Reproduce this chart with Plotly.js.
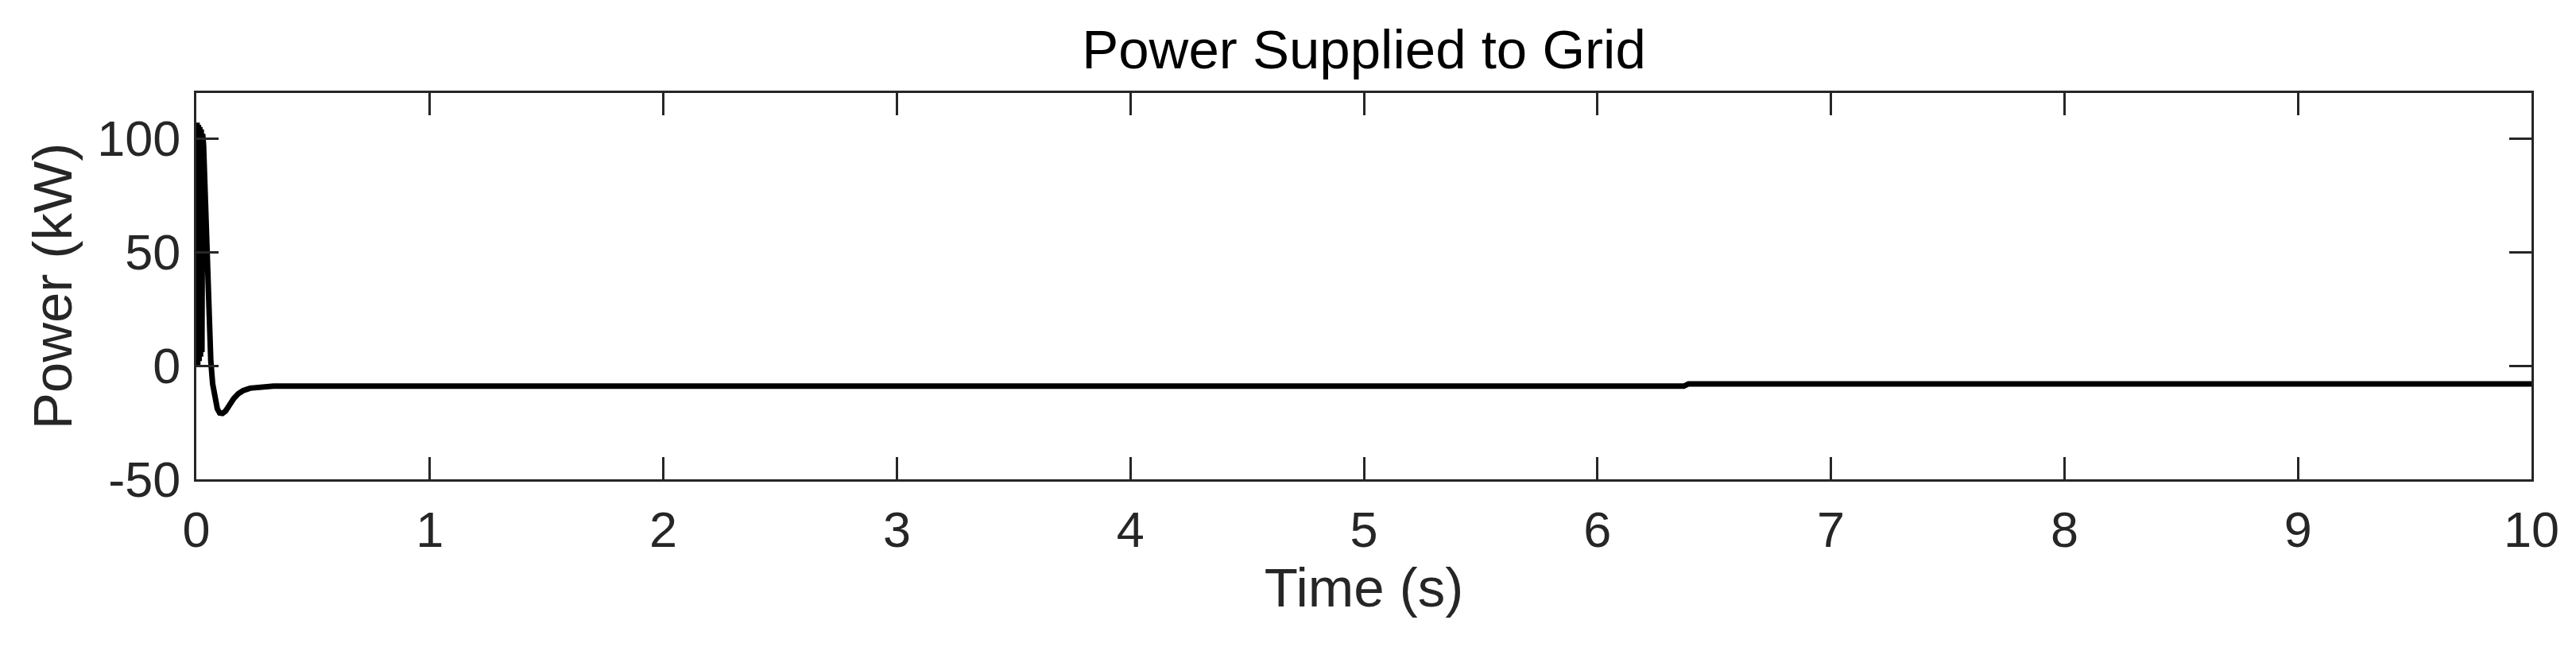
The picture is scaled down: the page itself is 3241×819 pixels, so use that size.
<!DOCTYPE html>
<html>
<head>
<meta charset="utf-8">
<script src="https://cdn.plot.ly/plotly-3.0.1.min.js"></script>
<style>
  html, body { margin: 0; padding: 0; background: #fff; }
  #plotArea { width: 3241px; height: 819px; }
</style>
</head>
<body>
<div id="plotArea"></div>
<script>
// time (s) and power (kW)
// the first ~0.03 s is a fast ripple that shows up as a solid black band
var time = [0, 0.003, 0.006, 0.009, 0.012, 0.015, 0.018, 0.021, 0.024, 0.027,
    0.031, 0.038, 0.045, 0.053, 0.062,
    0.07, 0.08, 0.09, 0.1, 0.112, 0.125, 0.14, 0.16, 0.18, 0.2, 0.23, 0.27, 0.33,
    1, 2, 3, 4, 5, 6, 6.37, 6.39, 7, 8, 9, 10];
var power = [0, 107, 0, 106, 2, 105, 4, 104, 6, 102,
    97, 75, 50, 25, 2,
    -8, -15, -19, -20.8, -21, -20, -17.5, -14.5, -12.3, -11, -9.9, -9.3, -9,
    -9, -9, -9, -9, -9, -9, -9, -8, -8, -8, -8, -8];

var xTicks = [0, 1, 2, 3, 4, 5, 6, 7, 8, 9, 10];
var yTicks = [-50, 0, 50, 100];
var yTickText = ["-50", "0", "50", "100"];

var axisColor = "#262626";
var fontFam = "Liberation Sans, Arial, sans-serif";

var trace = {
    x: time,
    y: power,
    mode: "lines",
    type: "scatter",
    line: {color: "#000000", width: 7},
    hoverinfo: "skip"
};

var layout = {
    width: 3241,
    height: 819,
    margin: {l: 247, r: 56, t: 117, b: 216},
    paper_bgcolor: "#ffffff",
    plot_bgcolor: "#ffffff",
    showlegend: false,
    font: {family: fontFam, color: axisColor},
    title: {
        text: "Power Supplied to Grid",
        font: {size: 69, color: "#000000", family: fontFam},
        x: 0.5, xref: "paper",
        y: 1 - 62 / 819, yref: "container", yanchor: "middle"
    },
    xaxis: {
        range: [0, 10],
        tickvals: xTicks,
        ticks: "inside",
        ticklen: 28,
        tickwidth: 3,
        tickcolor: axisColor,
        showline: true,
        linecolor: axisColor,
        linewidth: 3,
        mirror: "ticks",
        showgrid: false,
        zeroline: false,
        tickfont: {size: 63, color: axisColor},
        ticklabelstandoff: 6,
        automargin: false,
        title: {text: "Time (s)", font: {size: 69, color: axisColor}, standoff: 10}
    },
    yaxis: {
        range: [-50, 120],
        tickvals: yTicks,
        ticktext: yTickText,
        ticks: "inside",
        ticklen: 28,
        tickwidth: 3,
        tickcolor: axisColor,
        showline: true,
        linecolor: axisColor,
        linewidth: 3,
        mirror: "ticks",
        showgrid: false,
        zeroline: false,
        tickfont: {size: 63, color: axisColor},
        ticklabelstandoff: 4,
        automargin: false,
        title: {text: "Power (kW)", font: {size: 69, color: axisColor}, standoff: 10}
    }
};

Plotly.newPlot("plotArea", [trace], layout, {staticPlot: true, displayModeBar: false});
</script>
</body>
</html>
